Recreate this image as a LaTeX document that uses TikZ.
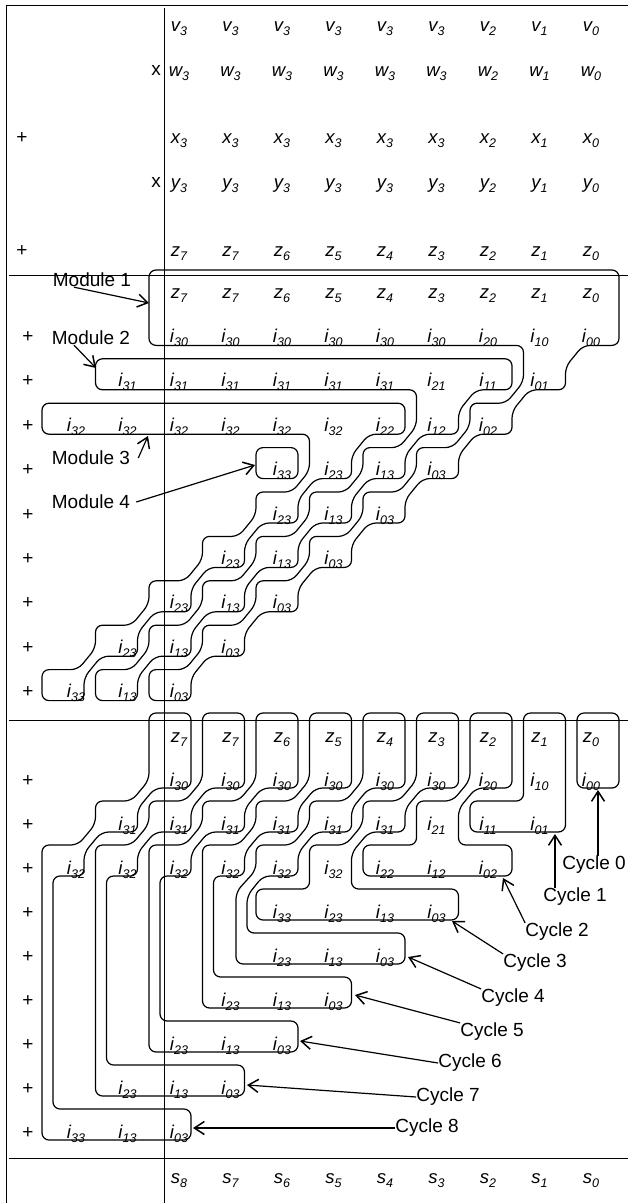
\documentclass[tikz,border=0pt]{standalone}
\usepackage{fontspec}
\setmainfont{Liberation Sans}
\usetikzlibrary{arrows.meta}
\pgfmathdeclarefunction{bxx}{1}{\pgfmathparse{598-53.5*#1}}
\pgfmathdeclarefunction{mrow}{1}{\pgfmathparse{270+44.4*#1}}
\pgfmathdeclarefunction{lrow}{1}{\pgfmathparse{713+44*#1}}
\pgfmathdeclarefunction{labx}{1}{\pgfmathparse{591-51.5*#1}}
\newcommand\lb[2]{{\itshape #1\raisebox{-4pt}{\fontsize{12.5}{13}\selectfont #2}}}
\newcommand\startpt[2]{\pgfmathsetmacro\mytx{#1}\pgfmathsetmacro\myty{#2}\xdef\pth{(\mytx,\myty)}}
\newcommand\addpt[2]{\pgfmathsetmacro\mytx{#1}\pgfmathsetmacro\myty{#2}\xdef\pth{\pth -- (\mytx,\myty)}}
\newcommand\drawpth{\edef\mytmp{\noexpand\draw[outl] \pth -- cycle;}\mytmp}
\newcommand\labrow[4]{\foreach \col/\mysub in {#4}{\node[lab] (#1\col) at ({labx(\col)},{#2}) {\lb{#3}{\mysub}};}}
\newcommand\modpath[4]{%
  \def\mra{#1}\def\mb{#2}\def\mcl{#3}\def\mq{#4}%
  \startpt{bxx(\mcl)}{mrow(\mra)}%
  \addpt{bxx(\mq)+21}{mrow(\mra)}%
  \addpt{bxx(\mq)+21}{mrow(\mb)+31}%
  \addpt{bxx(\mq)-15}{mrow(\mb)+31}%
  \pgfmathtruncatemacro\mrs{\mb+1}%
  \foreach \rw in {\mrs,...,8}{%
    \addpt{bxx(\mq+\rw-\mb)+21}{mrow(\rw)+8}%
    \addpt{bxx(\mq+\rw-\mb)+21}{mrow(\rw)+31}%
    \addpt{bxx(\mq+\rw-\mb)-15}{mrow(\rw)+31}}%
  \addpt{bxx(\mq+9-\mb)+21}{mrow(9)+8}%
  \addpt{bxx(\mq+9-\mb)+21}{mrow(9)+31}%
  \addpt{bxx(\mq+9-\mb)-21}{mrow(9)+31}%
  \addpt{bxx(\mq+9-\mb)-21}{mrow(9)}%
  \pgfmathtruncatemacro\mre{\mb+3}%
  \foreach \rw in {9,8,...,\mre}{%
    \addpt{bxx(\mq+\rw-\mb)+15}{mrow(\rw)}%
    \addpt{bxx(\mq+\rw-\mb-1)-21}{mrow(\rw-1)+23}%
    \addpt{bxx(\mq+\rw-\mb-1)-21}{mrow(\rw-1)}}%
  \addpt{bxx(\mq+2)+15}{mrow(\mb+2)}%
  \addpt{bxx(\mq+1)-21}{mrow(\mb+1)+23}%
  \addpt{bxx(\mq+1)-21}{mrow(\mb)+31}%
  \addpt{bxx(\mcl)-21}{mrow(\mb)+31}%
  \addpt{bxx(\mcl)-21}{mrow(\mra)}%
  \drawpth}
\tikzset{
  outl/.style={line width=1.2pt, rounded corners=7pt},
  frame/.style={line width=1pt},
  lab/.style={anchor=base, inner sep=0pt, font=\fontsize{18.5}{20}\selectfont},
  op/.style={anchor=base, inner sep=0pt, font=\fontsize{19}{20}\selectfont},
  txt/.style={inner sep=0pt, font=\fontsize{19}{22}\selectfont},
  arr/.style={line width=1.2pt, -{Straight Barb[length=10pt,width=13pt,line width=1.5pt]}}
}
\begin{document}
\begin{tikzpicture}[x=1pt,y=-1pt]
\useasboundingbox (0,0) rectangle (628,1203);
% frame and grid lines
\draw[frame] (628,5) -- (6,5) -- (6,1203);
\draw[frame] (164,8) -- (164,1203);
\draw[frame] (9,275) -- (628,275);
\draw[frame] (9,720) -- (628,720);
\draw[frame] (9,1158) -- (628,1158);
% top section
\labrow{tv}{31}{v}{8/3,7/3,6/3,5/3,4/3,3/3,2/2,1/1,0/0}
\labrow{tw}{76}{w}{8/3,7/3,6/3,5/3,4/3,3/3,2/2,1/1,0/0}
\labrow{tx}{143}{x}{8/3,7/3,6/3,5/3,4/3,3/3,2/2,1/1,0/0}
\labrow{ty}{188}{y}{8/3,7/3,6/3,5/3,4/3,3/3,2/2,1/1,0/0}
\labrow{tz}{256}{z}{8/7,7/7,6/6,5/5,4/4,3/3,2/2,1/1,0/0}
\node[op] (tm1) at (156,75) {x};
\node[op] (tm2) at (156,187) {x};
\node[op] (tp1) at (22,143) {+};
\node[op] (tp2) at (22,256) {+};
% middle section labels
\labrow{mz}{{mrow(0)+28}}{z}{8/7,7/7,6/6,5/5,4/4,3/3,2/2,1/1,0/0}
\labrow{ma}{{mrow(1)+28}}{i}{8/30,7/30,6/30,5/30,4/30,3/30,2/20,1/10,0/00}
\labrow{mb}{{mrow(2)+28}}{i}{9/31,8/31,7/31,6/31,5/31,4/31,3/21,2/11,1/01}
\labrow{mc}{{mrow(3)+28}}{i}{10/32,9/32,8/32,7/32,6/32,5/32,4/22,3/12,2/02}
\labrow{md}{{mrow(4)+28}}{i}{6/33,5/23,4/13,3/03}
\labrow{me}{{mrow(5)+28}}{i}{6/23,5/13,4/03}
\labrow{mf}{{mrow(6)+28}}{i}{7/23,6/13,5/03}
\labrow{mg}{{mrow(7)+28}}{i}{8/23,7/13,6/03}
\labrow{mh}{{mrow(8)+28}}{i}{9/23,8/13,7/03}
\labrow{mi}{{mrow(9)+28}}{i}{10/33,9/13,8/03}
\foreach \rw in {1,...,9}{\node[op] (mp\rw) at (28,{mrow(\rw)+28}) {+};}
% lower section labels
\labrow{lz}{{lrow(0)+29}}{z}{8/7,7/7,6/6,5/5,4/4,3/3,2/2,1/1,0/0}
\labrow{la}{{lrow(1)+29}}{i}{8/30,7/30,6/30,5/30,4/30,3/30,2/20,1/10,0/00}
\labrow{lb}{{lrow(2)+29}}{i}{9/31,8/31,7/31,6/31,5/31,4/31,3/21,2/11,1/01}
\labrow{lc}{{lrow(3)+29}}{i}{10/32,9/32,8/32,7/32,6/32,5/32,4/22,3/12,2/02}
\labrow{ld}{{lrow(4)+29}}{i}{6/33,5/23,4/13,3/03}
\labrow{le}{{lrow(5)+29}}{i}{6/23,5/13,4/03}
\labrow{lf}{{lrow(6)+29}}{i}{7/23,6/13,5/03}
\labrow{lg}{{lrow(7)+29}}{i}{8/23,7/13,6/03}
\labrow{lh}{{lrow(8)+29}}{i}{9/23,8/13,7/03}
\labrow{li}{{lrow(9)+29}}{i}{10/33,9/13,8/03}
\foreach \rw in {1,...,9}{\node[op] (lp\rw) at (28,{lrow(\rw)+29}) {+};}
\labrow{ls}{1183}{s}{8/8,7/7,6/6,5/5,4/4,3/3,2/2,1/1,0/0}
% module outlines
\modpath{0}{1}{8}{0}
\modpath{2}{2}{9}{2}
\modpath{3}{3}{10}{4}
\draw[outl] ({bxx(6)-21},{mrow(4)}) rectangle ({bxx(6)+21},{mrow(4)+31});
% cycle outlines
\draw[outl] ({bxx(0)-21},{lrow(0)}) rectangle ({bxx(0)+21},{lrow(1)+31});
\startpt{bxx(1)}{lrow(0)}
\addpt{bxx(1)+21}{lrow(0)}
\addpt{bxx(1)+21}{lrow(2)+31}
\addpt{bxx(2)-21}{lrow(2)+31}
\addpt{bxx(2)-21}{lrow(2)}
\addpt{bxx(1)-21}{lrow(2)}
\addpt{bxx(1)-21}{lrow(0)}
\drawpth
\startpt{bxx(2)}{lrow(0)}
\addpt{bxx(2)+21}{lrow(0)}
\addpt{bxx(2)+21}{lrow(1)+31}
\addpt{bxx(2)-15}{lrow(1)+31}
\addpt{bxx(3)+21}{lrow(2)+8}
\addpt{bxx(3)+21}{lrow(3)}
\addpt{bxx(2)+21}{lrow(3)}
\addpt{bxx(2)+21}{lrow(3)+31}
\addpt{bxx(4)-21}{lrow(3)+31}
\addpt{bxx(4)-21}{lrow(3)}
\addpt{bxx(3)-21}{lrow(3)}
\addpt{bxx(3)-21}{lrow(2)}
\addpt{bxx(3)+15}{lrow(2)}
\addpt{bxx(2)-21}{lrow(1)+23}
\addpt{bxx(2)-21}{lrow(0)}
\drawpth
\startpt{bxx(3)}{lrow(0)}
\addpt{bxx(3)+21}{lrow(0)}
\addpt{bxx(3)+21}{lrow(1)+31}
\addpt{bxx(3)-15}{lrow(1)+31}
\addpt{bxx(4)+21}{lrow(2)+8}
\addpt{bxx(4)+21}{lrow(2)+31}
\addpt{bxx(4)-15}{lrow(2)+31}
\addpt{bxx(5)+21}{lrow(3)+8}
\addpt{bxx(5)+21}{lrow(4)}
\addpt{bxx(3)+21}{lrow(4)}
\addpt{bxx(3)+21}{lrow(4)+31}
\addpt{bxx(6)-21}{lrow(4)+31}
\addpt{bxx(6)-21}{lrow(4)}
\addpt{bxx(5)-21}{lrow(4)}
\addpt{bxx(5)-21}{lrow(3)}
\addpt{bxx(5)+15}{lrow(3)}
\addpt{bxx(4)-21}{lrow(2)+23}
\addpt{bxx(4)-21}{lrow(2)}
\addpt{bxx(4)+15}{lrow(2)}
\addpt{bxx(3)-21}{lrow(1)+23}
\addpt{bxx(3)-21}{lrow(0)}
\drawpth
\startpt{bxx(4)}{lrow(0)}
\addpt{bxx(4)+21}{lrow(0)}
\addpt{bxx(4)+21}{lrow(1)+31}
\addpt{bxx(4)-15}{lrow(1)+31}
\addpt{bxx(5)+21}{lrow(2)+8}
\addpt{bxx(5)+21}{lrow(2)+31}
\addpt{bxx(5)-15}{lrow(2)+31}
\addpt{bxx(6)+21}{lrow(3)+8}
\addpt{bxx(6)+21}{lrow(3)+31}
\addpt{bxx(6)-14}{lrow(3)+31}
\addpt{247}{lrow(4)+7}
\addpt{247}{lrow(5)}
\addpt{bxx(4)+21}{lrow(5)}
\addpt{bxx(4)+21}{lrow(5)+31}
\addpt{236}{lrow(5)+31}
\addpt{236}{lrow(4)+3}
\addpt{bxx(6)-21}{lrow(3)+25}
\addpt{bxx(6)-21}{lrow(3)}
\addpt{bxx(6)+15}{lrow(3)}
\addpt{bxx(5)-21}{lrow(2)+23}
\addpt{bxx(5)-21}{lrow(2)}
\addpt{bxx(5)+15}{lrow(2)}
\addpt{bxx(4)-21}{lrow(1)+23}
\addpt{bxx(4)-21}{lrow(0)}
\drawpth
\foreach \kk in {5,6,7,8}{%
\startpt{bxx(\kk)}{lrow(0)}%
\addpt{bxx(\kk)+21}{lrow(0)}%
\addpt{bxx(\kk)+21}{lrow(1)+31}%
\addpt{bxx(\kk)-15}{lrow(1)+31}%
\addpt{bxx(\kk+1)+21}{lrow(2)+8}%
\addpt{bxx(\kk+1)+21}{lrow(2)+31}%
\addpt{bxx(\kk+1)-15}{lrow(2)+31}%
\addpt{bxx(\kk+2)+21}{lrow(3)+8}%
\addpt{bxx(\kk+2)+21}{lrow(3)+31}%
\addpt{bxx(\kk+2)-10}{lrow(3)+31}%
\addpt{bxx(\kk+2)-10}{lrow(\kk+1)}%
\addpt{bxx(\kk)+21}{lrow(\kk+1)}%
\addpt{bxx(\kk)+21}{lrow(\kk+1)+31}%
\addpt{bxx(\kk+2)-21}{lrow(\kk+1)+31}%
\addpt{bxx(\kk+2)-21}{lrow(3)}%
\addpt{bxx(\kk+2)+15}{lrow(3)}%
\addpt{bxx(\kk+1)-21}{lrow(2)+23}%
\addpt{bxx(\kk+1)-21}{lrow(2)}%
\addpt{bxx(\kk+1)+15}{lrow(2)}%
\addpt{bxx(\kk)-21}{lrow(1)+23}%
\addpt{bxx(\kk)-21}{lrow(0)}%
\drawpth}
% module labels and arrows
\node[txt] (mod1) at (92,280) {Module 1};
\node[txt] (mod2) at (91,338) {Module 2};
\node[txt] (mod3) at (91,458) {Module 3};
\node[txt] (mod4) at (91,502) {Module 4};
\coordinate (m1t) at (149,303);
\coordinate (m2t) at (96,368);
\coordinate (m3t) at (148,436);
\coordinate (m4t) at (255,465);
\draw[arr] ([xshift=-18pt]mod1.south) -- (m1t);
\draw[arr] ([xshift=-17pt]mod2.south) -- (m2t);
\draw[arr] ([xshift=8pt]mod3.east) -- (m3t);
\draw[arr] ([xshift=6pt]mod4.east) -- (m4t);
% cycle labels and arrows
\node[txt] (cy0) at (594,865) {Cycle 0};
\node[txt] (cy1) at (575,897) {Cycle 1};
\node[txt] (cy2) at (557,932) {Cycle 2};
\node[txt] (cy3) at (535,963) {Cycle 3};
\node[txt] (cy4) at (513,998) {Cycle 4};
\node[txt] (cy5) at (492,1032) {Cycle 5};
\node[txt] (cy6) at (470,1063) {Cycle 6};
\node[txt] (cy7) at (448,1097) {Cycle 7};
\node[txt] (cy8) at (427,1128) {Cycle 8};
\coordinate (c0t) at (598,790);
\coordinate (c1t) at (555,834);
\coordinate (c2t) at (503,878);
\coordinate (c3t) at (452,921);
\coordinate (c4t) at (408,957);
\coordinate (c5t) at (355,995);
\coordinate (c6t) at (300,1041);
\coordinate (c7t) at (247,1085);
\coordinate (c8t) at (193,1128);
\draw[arr] (cy0.north -| c0t) -- (c0t);
\draw[arr] (cy1.north -| c1t) -- (c1t);
\draw[arr] (cy2.north west) -- (c2t);
\draw[arr] (cy3.north west) -- (c3t);
\draw[arr] (cy4.north west) -- (c4t);
\draw[arr] (cy5.north west) -- (c5t);
\draw[arr] (cy6.west) -- (c6t);
\draw[arr] (cy7.west) -- (c7t);
\draw[arr] (cy8.west) -- (c8t);
\end{tikzpicture}
\end{document}
